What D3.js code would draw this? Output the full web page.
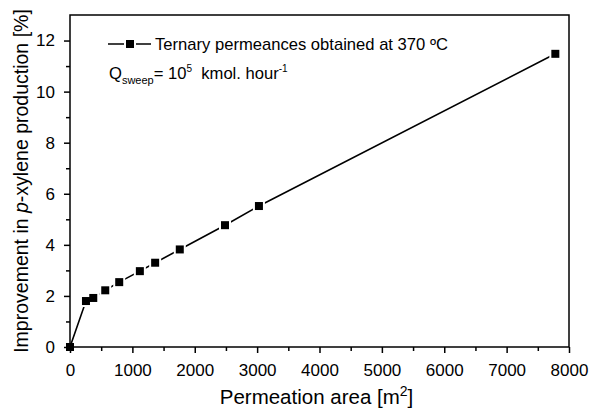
<!DOCTYPE html>
<html>
<head>
<meta charset="utf-8">
<script src="https://cdn.jsdelivr.net/npm/d3@7"></script>
<style>
  html, body { margin: 0; padding: 0; background: #fff; }
  svg { display: block; font-family: "Liberation Sans", Arial, Helvetica, sans-serif; }
</style>
</head>
<body>
<svg id="chart" width="592" height="408"></svg>
<script>
// Data
const areas = [0, 256, 373, 565, 789, 1120, 1365, 1760, 2485, 3029, 7781];
const improvements = [0, 1.80, 1.92, 2.22, 2.54, 2.97, 3.30, 3.82, 4.77, 5.52, 11.48];
const xTicks = [0, 1000, 2000, 3000, 4000, 5000, 6000, 7000, 8000];
const yTicks = [0, 2, 4, 6, 8, 10, 12];
const seriesName = "Ternary permeances obtained at 370 \u00BAC";

(function () {
const svg = d3.select("#chart");
const mLeft = 70, mRight = 569, mTop = 15, mBottom = 347;

const x = d3.scaleLinear().domain([0, 8000]).range([mLeft, mRight]);
const y = d3.scaleLinear().domain([0, 13]).range([mBottom, mTop]);

const data = areas.map((a, i) => ({ a, v: improvements[i] }));

// line
svg.append("path")
  .datum(data)
  .attr("fill", "none")
  .attr("stroke", "#000")
  .attr("stroke-width", 1.6)
  .attr("d", d3.line().x(d => x(d.a)).y(d => y(d.v)));

// white halos around markers (gap between line and marker)
const ms = 8, halo = 12;
svg.append("g").selectAll("rect").data(data.slice(1)).join("rect")
  .attr("x", d => x(d.a) - halo / 2)
  .attr("y", d => y(d.v) - halo / 2)
  .attr("width", halo).attr("height", halo)
  .attr("fill", "#fff");

// axes
const fontSize = 17;
const xAxis = d3.axisBottom(x).tickValues(xTicks).tickSize(6).tickPadding(11).tickFormat(d3.format("d"));
const xMinor = d3.axisBottom(x).tickValues(d3.range(500, 8000, 1000)).tickSize(4).tickFormat("");
const yAxis = d3.axisLeft(y).tickValues(yTicks).tickSize(6).tickPadding(9).tickFormat(d3.format("d"));
const yMinor = d3.axisLeft(y).tickValues(d3.range(1, 13, 2)).tickSize(4).tickFormat("");

function styleAxis(g) {
  g.select(".domain").remove();
  g.selectAll("line").attr("stroke", "#000").attr("stroke-width", 1.5);
  g.selectAll("text").attr("font-size", fontSize).attr("fill", "#000")
    .attr("font-family", "Liberation Sans, Arial, sans-serif");
}

svg.append("g").attr("transform", `translate(0,${mBottom})`).call(xAxis).call(styleAxis);
svg.append("g").attr("transform", `translate(0,${mBottom})`).call(xMinor).call(styleAxis);
svg.append("g").attr("transform", `translate(${mLeft},0)`).call(yAxis).call(styleAxis);
svg.append("g").attr("transform", `translate(${mLeft},0)`).call(yMinor).call(styleAxis);

// frame
svg.append("rect")
  .attr("x", mLeft).attr("y", mTop)
  .attr("width", mRight - mLeft).attr("height", mBottom - mTop)
  .attr("fill", "none").attr("stroke", "#000").attr("stroke-width", 1.5);

// markers
svg.append("g").selectAll("rect").data(data).join("rect")
  .attr("x", d => x(d.a) - ms / 2)
  .attr("y", d => y(d.v) - ms / 2)
  .attr("width", ms).attr("height", ms)
  .attr("fill", "#000");

// axis titles
svg.append("text")
  .attr("x", (mLeft + mRight) / 2 - 3).attr("y", 404)
  .attr("text-anchor", "middle")
  .attr("font-size", 20.5)
  .html('Permeation area [m<tspan dy="-8" font-size="14">2</tspan><tspan dy="8">]</tspan>');

const yt = svg.append("text")
  .attr("transform", `translate(28,${(mTop + mBottom) / 2}) rotate(-90)`)
  .attr("text-anchor", "middle")
  .attr("font-size", 19.5);
yt.append("tspan").text("Improvement in ");
yt.append("tspan").attr("font-style", "italic").text("p");
yt.append("tspan").text("-xylene production [%]");

// legend
const ly = 44;
svg.append("line").attr("x1", 108).attr("x2", 151).attr("y1", ly).attr("y2", ly)
  .attr("stroke", "#000").attr("stroke-width", 1.6);
svg.append("rect").attr("x", 130 - halo / 2).attr("y", ly - halo / 2)
  .attr("width", halo).attr("height", halo).attr("fill", "#fff");
svg.append("rect").attr("x", 130 - ms / 2).attr("y", ly - ms / 2)
  .attr("width", ms).attr("height", ms).attr("fill", "#000");
svg.append("text").attr("x", 155).attr("y", 50).attr("font-size", 16.6).text(seriesName);

const q = svg.append("text").attr("x", 109).attr("y", 79).attr("font-size", 16.6);
q.append("tspan").text("Q");
q.append("tspan").attr("dy", 5).attr("font-size", 11).text("sweep");
q.append("tspan").attr("dy", -5).text("= 10");
q.append("tspan").attr("dy", -7).attr("font-size", 10).text("5");
q.append("tspan").attr("dy", 7).text("\u00A0 kmol. hour");
q.append("tspan").attr("dy", -7).attr("font-size", 10).text("-1");
})();
</script>
</body>
</html>
